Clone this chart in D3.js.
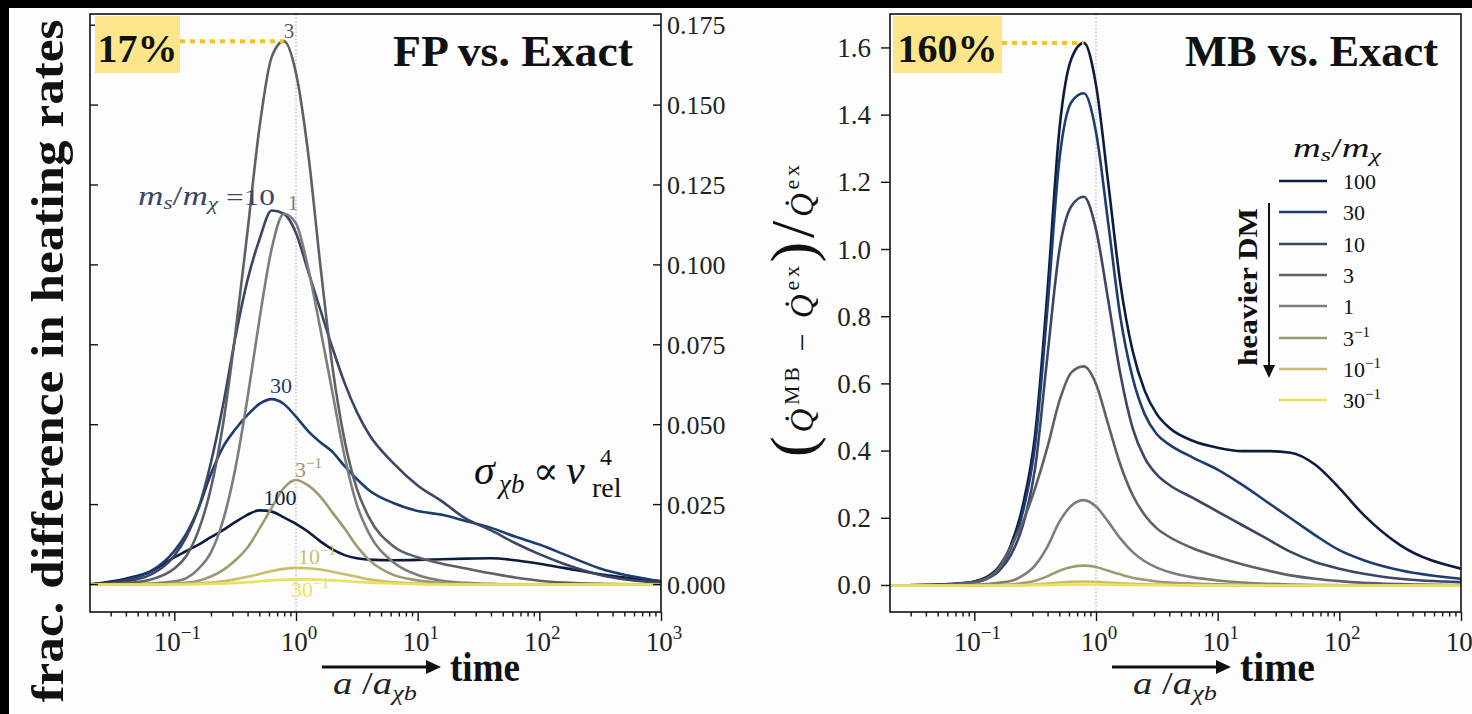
<!DOCTYPE html>
<html><head><meta charset="utf-8">
<script src="https://cdn.jsdelivr.net/npm/d3@7"></script>
<style>body{margin:0;background:#000;} svg{display:block}</style>
</head><body>
<svg id="c" width="1472" height="714"></svg>
<script>
// ---------- data ----------
const log10A = [-1.7,-1.4,-1.2,-1.0,-0.9,-0.8,-0.7,-0.6,-0.5,-0.4,-0.3,-0.2,-0.1,0.0,0.1,0.2,0.3,0.4,0.5,0.6,0.8,1.0,1.2,1.4,1.6,1.8,2.0,2.2,2.5,3.0];
const massRatios = ["100","30","10","3","1","3^-1","10^-1","30^-1"];
const seriesColors = ["#0c1c40","#1d3d72","#3b4665","#5d6067","#7d7d79","#9d9a72","#c9bf68","#ebe05c"];

// FP vs Exact (fractional difference)
const fp100 = [0,0.0018,0.004,0.0085,0.0105,0.0125,0.0148,0.017,0.0195,0.0218,0.0232,0.0228,0.021,0.019,0.0165,0.0135,0.011,0.0092,0.0082,0.0078,0.0076,0.0077,0.0079,0.0081,0.0082,0.0076,0.0065,0.0052,0.0032,0.001];
const fp30  = [0,0.0015,0.004,0.0105,0.016,0.024,0.0345,0.043,0.0485,0.053,0.0565,0.058,0.0565,0.0525,0.048,0.0445,0.0415,0.037,0.033,0.0295,0.0255,0.023,0.0218,0.0198,0.0178,0.015,0.0125,0.0095,0.005,0.001];
const fp10  = [0,0.001,0.003,0.009,0.015,0.024,0.038,0.056,0.077,0.095,0.108,0.117,0.116,0.11,0.098,0.086,0.074,0.063,0.054,0.047,0.038,0.031,0.026,0.0205,0.017,0.013,0.0095,0.0065,0.003,0.0005];
const fp3   = [0,0.0004,0.0015,0.005,0.009,0.017,0.03,0.05,0.078,0.11,0.143,0.165,0.17,0.16,0.135,0.1,0.068,0.045,0.03,0.021,0.012,0.0085,0.0065,0.005,0.0035,0.0022,0.0012,0.0006,0.0002,0];
const fp1   = [0,0,0.0003,0.001,0.002,0.005,0.01,0.02,0.036,0.058,0.083,0.105,0.116,0.113,0.099,0.08,0.06,0.04,0.025,0.016,0.007,0.003,0.0012,0.0005,0.0002,0,0,0,0,0];
const fp3i  = [0,0,0,0.0003,0.0006,0.0012,0.0025,0.0045,0.0075,0.0115,0.0175,0.024,0.0302,0.0327,0.031,0.0275,0.0225,0.0175,0.012,0.0077,0.003,0.0013,0.0005,0.0002,0,0,0,0,0,0];
const fp10i = [0,0,0,0.0001,0.0002,0.0003,0.0006,0.001,0.0016,0.0024,0.0033,0.0042,0.0049,0.0052,0.0051,0.0047,0.004,0.0032,0.0024,0.0016,0.0007,0.0003,0.0001,0,0,0,0,0,0,0];
const fp30i = [0,0,0,0,0,0.0001,0.0002,0.0003,0.0005,0.0007,0.001,0.0013,0.0015,0.0016,0.0016,0.0015,0.0013,0.0011,0.0008,0.0006,0.0003,0.0001,0,0,0,0,0,0,0,0];

// MB vs Exact
const mb100 = [0,0.001,0.004,0.012,0.025,0.055,0.12,0.24,0.45,0.87,1.36,1.57,1.615,1.49,1.2,0.9,0.7,0.58,0.51,0.47,0.43,0.41,0.40,0.40,0.395,0.36,0.29,0.21,0.12,0.05];
const mb30  = [0,0.001,0.004,0.011,0.023,0.05,0.11,0.22,0.42,0.82,1.27,1.44,1.465,1.35,1.08,0.8,0.62,0.51,0.45,0.42,0.38,0.345,0.3,0.25,0.2,0.15,0.105,0.075,0.045,0.02];
const mb10  = [0,0.001,0.003,0.009,0.019,0.042,0.09,0.18,0.35,0.68,1.0,1.13,1.157,1.06,0.85,0.63,0.47,0.38,0.33,0.3,0.26,0.22,0.18,0.14,0.1,0.07,0.05,0.035,0.02,0.01];
const mb3   = [0,0.001,0.003,0.01,0.02,0.05,0.115,0.19,0.29,0.41,0.55,0.635,0.652,0.6,0.48,0.36,0.27,0.21,0.17,0.145,0.11,0.085,0.063,0.045,0.03,0.02,0.013,0.008,0.004,0.001];
const mb1   = [0,0,0.0005,0.002,0.004,0.008,0.013,0.03,0.06,0.115,0.19,0.238,0.254,0.235,0.19,0.14,0.1,0.072,0.053,0.04,0.024,0.015,0.009,0.005,0.003,0.0015,0.0008,0.0003,0,0];
const mb3i  = [0,0,0.0001,0.0005,0.001,0.002,0.003,0.007,0.014,0.027,0.044,0.055,0.059,0.055,0.044,0.033,0.023,0.017,0.012,0.009,0.0055,0.0035,0.002,0.001,0.0007,0.0003,0.0002,0,0,0];
const mb10i = [0,0,0,0.0001,0.0002,0.0004,0.0006,0.0014,0.0028,0.0055,0.009,0.0112,0.012,0.0112,0.009,0.0067,0.0047,0.0034,0.0025,0.0019,0.0011,0.0007,0.0004,0.0002,0.0001,0,0,0,0,0];
const mb30i = [0,0,0,0,0,0.0001,0.0002,0.0004,0.0007,0.0014,0.0022,0.0028,0.003,0.0028,0.0022,0.0017,0.0012,0.0008,0.0006,0.0005,0.0003,0.0002,0.0001,0,0,0,0,0,0,0];

const fpSeries = [fp100, fp30, fp10, fp3, fp1, fp3i, fp10i, fp30i];
const mbSeries = [mb100, mb30, mb10, mb3, mb1, mb3i, mb10i, mb30i];

const fpYTicks = [0,0.025,0.05,0.075,0.1,0.125,0.15,0.175];
const mbYTicks = [0,0.2,0.4,0.6,0.8,1.0,1.2,1.4,1.6];
const xMajorExp = [-1,0,1,2,3];

// ---------- drawing ----------
const W = 1472, H = 714;
const FONT = "'Liberation Serif','DejaVu Serif',serif";
const svg = d3.select("#c");
svg.append("rect").attr("width", W).attr("height", H).attr("fill", "#000");
svg.append("rect").attr("x", 9).attr("y", 8).attr("width", W - 9).attr("height", H - 8).attr("fill", "#fcfdfc");

const aMin = Math.pow(10, -1.693), aMax = 1000;
const Y0 = 612, Y1 = 14;

function rich(parent, x, y, parts, opt) {
  opt = opt || {};
  const t = parent.append("text").attr("x", x).attr("y", y)
    .attr("font-family", FONT).attr("fill", opt.fill || "#111")
    .attr("text-anchor", opt.anchor || "start");
  if (opt.transform) t.attr("transform", opt.transform);
  if (opt.length) t.attr("textLength", opt.length).attr("lengthAdjust", opt.adjust || "spacingAndGlyphs");
  let cur = 0;
  parts.forEach(p => {
    const s = t.append("tspan").text(p.t).attr("font-size", p.size || opt.size || 22);
    if (p.italic) s.attr("font-style", "italic");
    if (p.bold) s.attr("font-weight", "bold");
    const target = p.shift || 0;
    if (target !== cur) { s.attr("dy", target - cur); cur = target; }
    if (p.dx) s.attr("dx", p.dx);
  });
  return t;
}

function txt(parent, x, y, s, size, opt) {
  opt = opt || {};
  return parent.append("text").attr("x", x).attr("y", y).attr("font-family", FONT)
    .attr("font-size", size).attr("font-style", opt.italic ? "italic" : null)
    .attr("fill", opt.fill || "#111").text(s);
}

function panel(cfg) {
  const x = d3.scaleLog().domain([aMin, aMax]).range([cfg.x0, cfg.x1]);
  const y = d3.scaleLinear().domain(cfg.yDom).range([Y0, Y1]);
  const g = svg.append("g");
  const clipId = "clip" + cfg.id;
  g.append("clipPath").attr("id", clipId).append("rect")
    .attr("x", cfg.x0).attr("y", Y1).attr("width", cfg.x1 - cfg.x0).attr("height", Y0 - Y1);

  g.append("line").attr("x1", x(1)).attr("x2", x(1)).attr("y1", Y1).attr("y2", Y0)
    .attr("stroke", "#9a9a9a").attr("stroke-width", 0.9).attr("stroke-dasharray", "1.5,2");

  const line = d3.line().x((d, i) => x(Math.pow(10, log10A[i]))).y(d => y(d)).curve(d3.curveMonotoneX);
  const cg = g.append("g").attr("clip-path", `url(#${clipId})`);
  cfg.series.forEach((s, k) => {
    cg.append("path").attr("d", line(s)).attr("fill", "none")
      .attr("stroke", seriesColors[k]).attr("stroke-width", 2.6).attr("stroke-linejoin", "round");
  });

  g.append("rect").attr("x", cfg.x0).attr("y", Y1).attr("width", cfg.x1 - cfg.x0).attr("height", Y0 - Y1)
    .attr("fill", "none").attr("stroke", "#111").attr("stroke-width", 1.6);

  const minor = [];
  for (let e = -2; e <= 2; e++) for (let m = 2; m <= 9; m++) {
    const v = m * Math.pow(10, e);
    if (v >= aMin && v <= aMax) minor.push(v);
  }
  const major = xMajorExp.map(e => Math.pow(10, e));
  const axMinor = d3.axisBottom(x).tickValues(minor).tickSize(4.5).tickFormat("");
  const axMajor = d3.axisBottom(x).tickValues(major).tickSize(9).tickFormat("");
  [axMinor, axMajor].forEach(ax => {
    const a = g.append("g").attr("transform", `translate(0,${Y0})`).call(ax);
    a.select(".domain").remove();
    a.selectAll("line").attr("stroke", "#111").attr("stroke-width", 1.4);
  });
  xMajorExp.forEach(e => {
    rich(g, x(Math.pow(10, e)) + 3, 651, [
      { t: "10", size: 27 },
      { t: e < 0 ? "\u2212" + (-e) : String(e), size: 19, shift: -12 }
    ], { anchor: "middle", fill: "#222" });
  });

  cfg.yAxis(g, y);
  return { x, y, g };
}

// ----- left panel: FP vs Exact -----
const L = panel({
  id: "L", x0: 90, x1: 661, yDom: [-0.0086, 0.1785], series: fpSeries,
  yAxis: (g, y) => {
    fpYTicks.forEach(v => {
      g.append("line").attr("x1", 90).attr("x2", 98).attr("y1", y(v)).attr("y2", y(v)).attr("stroke", "#111").attr("stroke-width", 1.4);
      g.append("line").attr("x1", 653).attr("x2", 661).attr("y1", y(v)).attr("y2", y(v)).attr("stroke", "#111").attr("stroke-width", 1.4);
      g.append("text").attr("x", 667).attr("y", y(v) + 9).attr("font-family", FONT).attr("font-size", 26)
        .attr("fill", "#222").text(d3.format(".3f")(v));
    });
  }
});

// ----- right panel: MB vs Exact -----
const R = panel({
  id: "R", x0: 890, x1: 1461, yDom: [-0.079, 1.701], series: mbSeries,
  yAxis: (g, y) => {
    mbYTicks.forEach(v => {
      g.append("line").attr("x1", 881).attr("x2", 890).attr("y1", y(v)).attr("y2", y(v)).attr("stroke", "#111").attr("stroke-width", 1.4);
      g.append("text").attr("x", 871).attr("y", y(v) + 9).attr("font-family", FONT).attr("font-size", 27)
        .attr("text-anchor", "end").attr("fill", "#222").text(d3.format(".1f")(v));
    });
  }
});

// ----- peak markers -----
function peakMarker(P, s, boxX, boxW, label) {
  const m = d3.max(s), i = s.indexOf(m);
  const px = P.x(Math.pow(10, log10A[i])), py = P.y(m);
  svg.append("rect").attr("x", boxX).attr("y", 16).attr("width", boxW).attr("height", 57).attr("fill", "#fde58a");
  svg.append("line").attr("x1", boxX + boxW).attr("x2", px).attr("y1", py).attr("y2", py)
    .attr("stroke", "#f6c21c").attr("stroke-width", 4).attr("stroke-dasharray", "5,5");
  svg.append("text").attr("x", boxX + boxW / 2).attr("y", 62).attr("text-anchor", "middle")
    .attr("font-family", FONT).attr("font-weight", "bold").attr("font-size", 40).attr("fill", "#111").text(label);
}
peakMarker(L, fp3, 95, 85, "17%");
peakMarker(R, mb100, 893, 109, "160%");

// titles
svg.append("text").attr("x", 633).attr("y", 66).attr("text-anchor", "end").attr("font-family", FONT)
  .attr("font-weight", "bold").attr("font-size", 44).attr("textLength", 240).attr("lengthAdjust", "spacingAndGlyphs")
  .attr("fill", "#111").text("FP vs. Exact");
svg.append("text").attr("x", 1438).attr("y", 66).attr("text-anchor", "end").attr("font-family", FONT)
  .attr("font-weight", "bold").attr("font-size", 44).attr("textLength", 253).attr("lengthAdjust", "spacingAndGlyphs")
  .attr("fill", "#111").text("MB vs. Exact");

// left y label
svg.append("text").attr("transform", "translate(63,361) rotate(-90)").attr("text-anchor", "middle")
  .attr("font-family", FONT).attr("font-weight", "bold").attr("font-size", 46)
  .attr("textLength", 683).attr("lengthAdjust", "spacingAndGlyphs").attr("fill", "#111")
  .text("frac. difference in heating rates");

// right y label
rich(svg, 0, 0, [
  { t: "(", size: 62, shift: 0 },
  { t: "Q\u0307", size: 33, italic: true, shift: 0 },
  { t: "MB", size: 22, shift: -14 },
  { t: " \u2212 ", size: 32, shift: 0 },
  { t: "Q\u0307", size: 33, italic: true, shift: 0 },
  { t: "ex", size: 22, shift: -14 },
  { t: ")", size: 62, shift: 0 },
  { t: "/", size: 62, shift: 0 },
  { t: "Q\u0307", size: 33, italic: true, shift: 0 },
  { t: "ex", size: 22, shift: -14 }
], { anchor: "middle", transform: "translate(813,311) rotate(-90)", fill: "#111", length: 292, adjust: "spacing" });

// x labels
function xLabel(ax, tx, tl, lx) {
  svg.append("line").attr("x1", ax).attr("x2", ax + 106).attr("y1", 667).attr("y2", 667).attr("stroke", "#111").attr("stroke-width", 3);
  svg.append("path").attr("d", `M${ax + 104},660 L${ax + 119},667 L${ax + 104},674 Z`).attr("fill", "#111");
  svg.append("text").attr("x", tx).attr("y", 681).attr("font-family", FONT).attr("font-weight", "bold")
    .attr("font-size", 42).attr("textLength", tl).attr("lengthAdjust", "spacingAndGlyphs").attr("fill", "#111").text("time");
  rich(svg, lx, 694, [
    { t: "a", size: 31, italic: true },
    { t: " /", size: 31 },
    { t: "a", size: 31, italic: true },
    { t: "\u03c7b", size: 21, italic: true, shift: 6 }
  ], { fill: "#222", length: 84 });
}
xLabel(322, 450, 70, 333);
xLabel(1112, 1240, 75, 1133);

// left panel curve labels
const FPL = svg.append("g");
rich(FPL, 289, 38, [{ t: "3", size: 21 }], { anchor: "middle", fill: seriesColors[3] });
rich(FPL, 138, 205, [
  { t: "m", italic: true, size: 27 }, { t: "s", italic: true, size: 18, shift: 4 },
  { t: "/", size: 27, shift: 0 }, { t: "m", italic: true, size: 27 }, { t: "\u03c7", italic: true, size: 18, shift: 5 },
  { t: " =10", size: 24, shift: 0 }
], { fill: seriesColors[2], length: 137 });
rich(FPL, 293, 210, [{ t: "1", size: 21 }], { anchor: "middle", fill: seriesColors[4] });
rich(FPL, 281, 393, [{ t: "30", size: 22 }], { anchor: "middle", fill: seriesColors[1] });
rich(FPL, 295, 477, [{ t: "3", size: 22 }, { t: "\u22121", size: 15, shift: -9 }], { fill: seriesColors[5] });
rich(FPL, 280, 505, [{ t: "100", size: 22 }], { anchor: "middle", fill: seriesColors[0] });
rich(FPL, 298, 564, [{ t: "10", size: 22 }, { t: "\u22121", size: 15, shift: -9 }], { fill: seriesColors[6] });
rich(FPL, 291, 597, [{ t: "30", size: 22 }, { t: "\u22121", size: 15, shift: -9 }], { fill: seriesColors[7] });

// sigma annotation
txt(svg, 474, 484, "\u03c3", 42, { italic: true });
txt(svg, 499, 493, "\u03c7b", 27, { italic: true });
txt(svg, 533, 484, "\u221d", 38);
txt(svg, 566, 484, "v", 42, { italic: true });
txt(svg, 600, 465, "4", 24);
txt(svg, 592, 497, "rel", 28);

// legend (right panel)
const lg = svg.append("g");
rich(lg, 1293, 157, [
  { t: "m", italic: true, size: 28 }, { t: "s", italic: true, size: 19, shift: 4 },
  { t: "/", size: 28, shift: 0 }, { t: "m", italic: true, size: 28 }, { t: "\u03c7", italic: true, size: 19, shift: 5 }
], { fill: "#111", length: 88 });
const legendY = [181, 212, 244, 275, 306, 338, 369, 400];
massRatios.forEach((r, k) => {
  lg.append("line").attr("x1", 1279).attr("x2", 1327).attr("y1", legendY[k]).attr("y2", legendY[k])
    .attr("stroke", seriesColors[k]).attr("stroke-width", 2.6);
  const parts = r.split("^");
  const p = [{ t: parts[0], size: 22 }];
  if (parts[1]) p.push({ t: parts[1].replace("-", "\u2212"), size: 15, shift: -9 });
  rich(lg, 1343, legendY[k] + 8, p, { fill: "#111" });
});
lg.append("text").attr("transform", "translate(1257,287) rotate(-90)").attr("text-anchor", "middle")
  .attr("font-family", FONT).attr("font-weight", "bold").attr("font-size", 27)
  .attr("textLength", 158).attr("lengthAdjust", "spacingAndGlyphs").attr("fill", "#111").text("heavier DM");
lg.append("line").attr("x1", 1269).attr("x2", 1269).attr("y1", 203).attr("y2", 368).attr("stroke", "#111").attr("stroke-width", 2);
lg.append("path").attr("d", "M1263,365 L1269,378 L1275,365 Z").attr("fill", "#111");
</script>
</body></html>
